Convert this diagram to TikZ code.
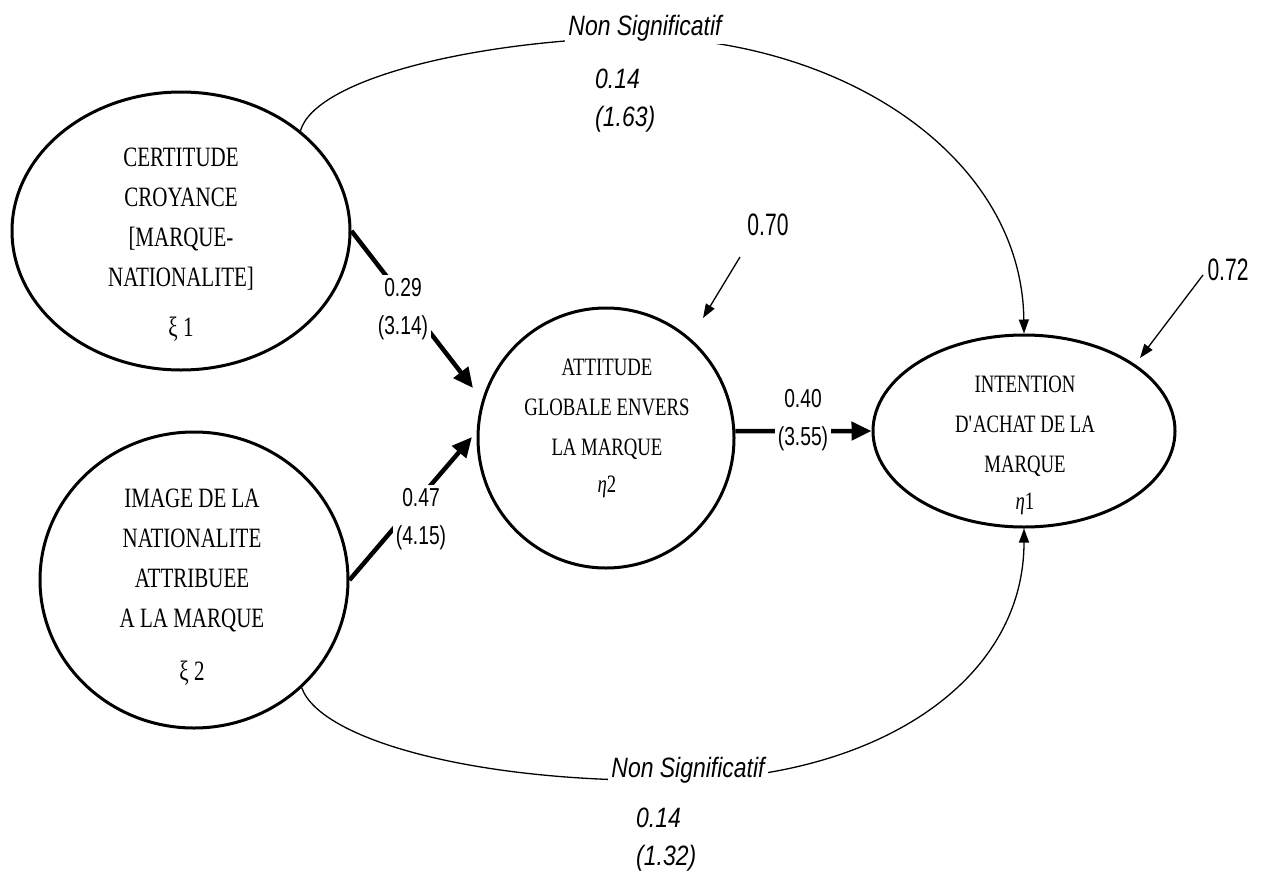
\documentclass[tikz,border=0pt]{standalone}
\usepackage{fontspec}
\setmainfont{Liberation Serif}[FakeStretch=0.75]
\newfontfamily\lsans{Liberation Sans}[FakeStretch=0.82]
\newfontfamily\csans{Liberation Sans}[FakeStretch=0.74]
\newfontfamily\rsans{Liberation Sans}[FakeStretch=0.68]
\usetikzlibrary{shapes.geometric,arrows.meta}
\tikzset{
  latent/.style={draw, ellipse, line width=3pt, inner sep=0pt},
  ltext/.style={align=center, font=\fontsize{28}{40}\selectfont},
  mtext/.style={align=center, font=\fontsize{25}{40}\selectfont},
  thickarrow/.style={line width=4.5pt, -{Triangle[length=20pt,width=18pt]}},
  thinarrow/.style={line width=1.3pt, -{Triangle[length=14pt,width=10pt]}},
  coef/.style={fill=white, align=center, inner sep=3pt, font=\csans\fontsize{26}{38}\selectfont},
  nslabel/.style={fill=white, inner sep=3pt, font=\lsans\itshape\fontsize{28}{34}\selectfont},
  ital/.style={align=left, inner sep=0pt, font=\lsans\itshape\fontsize{28}{38}\selectfont},
  resid/.style={inner sep=0pt, font=\rsans\fontsize{31}{34}\selectfont}
}
\begin{document}
\begin{tikzpicture}[x=1pt,y=-1pt]
\useasboundingbox (0,0) rectangle (1269,881);
% ellipses
\node[latent, minimum width=338pt, minimum height=278pt] (e1) at (181,231) {};
\node[latent, minimum width=308pt, minimum height=296pt] (e2) at (194,580) {};
\node[latent, minimum width=256pt, minimum height=260pt] (e3) at (606,438) {};
\node[latent, minimum width=302pt, minimum height=192pt] (e4) at (1024,431) {};
% texts
\node[ltext] (t1) at (181,245) {CERTITUDE\\CROYANCE\\{[}MARQUE-\\NATIONALITE]\\[10pt]ξ 1};
\node[ltext] (t2) at (192,587) {IMAGE DE LA\\NATIONALITE\\ATTRIBUEE\\A LA MARQUE\\[13pt]ξ 2};
\node[mtext] (t3) at (607,428) {ATTITUDE\\GLOBALE ENVERS\\LA MARQUE\\[-3pt]{\itshape η}2};
\node[mtext] (t4) at (1025,445) {INTENTION\\D\textquotesingle ACHAT DE LA\\MARQUE\\[-3pt]{\itshape η}1};
% free ends
\coordinate (a1) at (473,388);
\coordinate (a2) at (472,437);
\coordinate (r1s) at (740,257);
\coordinate (r1e) at (703,318);
\coordinate (r2s) at (1203,275);
\coordinate (r2e) at (1140,358);
\coordinate (c1) at (645,37);
\coordinate (c2) at (690,780);
% structural arrows
\draw[thickarrow] (e1.east) -- (a1);
\draw[thickarrow] (e2.east) -- (a2);
\draw[thickarrow] (e3.3) -- (e4.west);
\node[coef] (l1) at (403,309) {0.29\\(3.14)};
\node[coef] (l2) at (421,519) {0.47\\(4.15)};
\node[coef] (l3) at (803,420) {0.40\\(3.55)};
% residuals
\node[resid] (v1) at (768,225) {0.70};
\node[resid] (v2) at (1228,270) {0.72};
\draw[thinarrow] (r1s) -- (r1e);
\draw[thinarrow] (r2s) -- (r2e);
% non significant paths
\draw[thinarrow] (e1.40) .. controls (315,80) and (470,40) .. (c1)
   .. controls (850,42) and (1022,160) .. (e4.north);
\draw[thinarrow] (e2.-45) .. controls (320,740) and (480,785) .. (c2)
   .. controls (880,775) and (1024,680) .. (e4.south);
\node[nslabel] (ns1) at (645,28) {Non Significatif};
\node[nslabel] (ns2) at (688,770) {Non Significatif};
\node[ital, anchor=west] (k1) at (595,101) {0.14\\(1.63)};
\node[ital, anchor=west] (k2) at (636,840) {0.14\\(1.32)};
\end{tikzpicture}
\end{document}
